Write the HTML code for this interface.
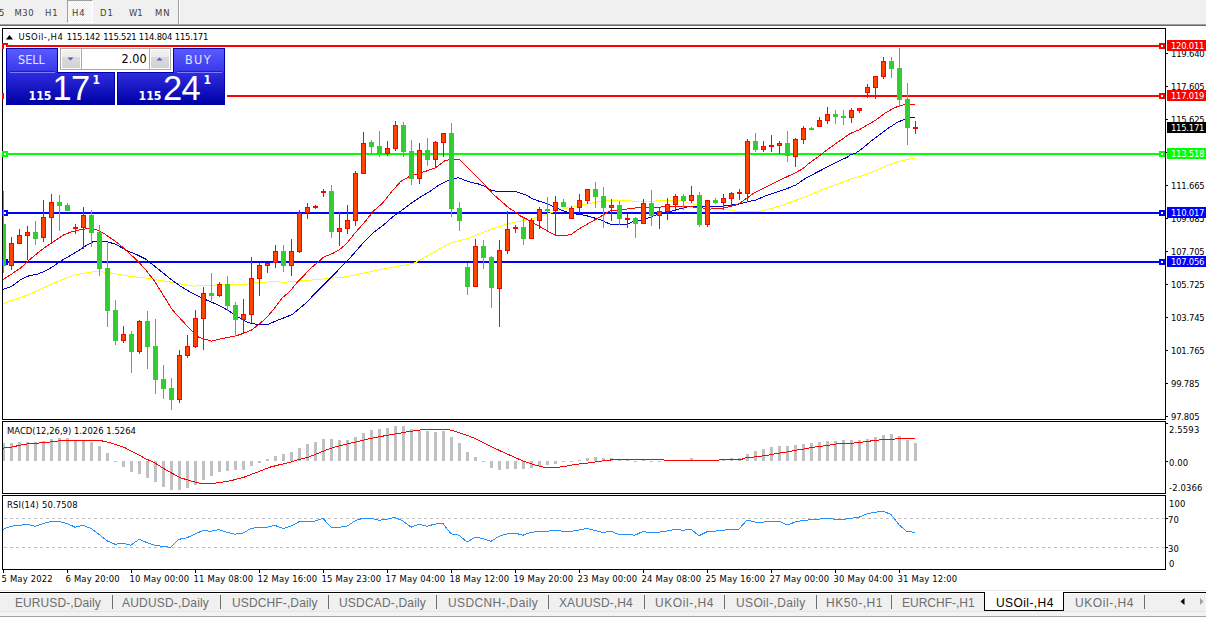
<!DOCTYPE html>
<html><head><meta charset="utf-8"><style>
*{margin:0;padding:0;box-sizing:border-box}
html,body{width:1206px;height:617px;overflow:hidden;background:#fff;position:relative;font-family:"Liberation Sans",Arial,sans-serif}
.w{fill:#fff !important}
.ax{font-family:"DejaVu Sans Condensed","DejaVu Sans",sans-serif;font-stretch:condensed;font-size:9.4px;fill:#000;letter-spacing:0.15px}
#tb{position:absolute;left:0;top:0;width:1206px;height:24px;background:#f0f0f0}
#tb span{position:absolute;top:8px;font-family:"DejaVu Sans Condensed","DejaVu Sans",sans-serif;font-stretch:condensed;font-size:9.4px;line-height:10px;color:#404040;letter-spacing:1px}
#tabs{position:absolute;left:0;top:590px;width:1206px;height:27px;background:#f0f0f0}
#tabs span.t{position:absolute;top:6px;font-size:12px;line-height:14px;color:#6d6d6d;white-space:nowrap}
#tabs i.s{position:absolute;top:5px;width:1px;height:14px;background:#6d6d6d}
.p{position:absolute;line-height:1;white-space:nowrap}
.dj{font-family:"DejaVu Sans Condensed","DejaVu Sans",sans-serif;font-stretch:condensed}
.big{font-size:34.5px;color:#fff;letter-spacing:-0.8px}
</style></head><body>
<div id="tb">
<span style="left:-1px">5</span><span style="left:14.5px;letter-spacing:0.5px">M30</span><span style="left:45px">H1</span>
<div style="position:absolute;left:67px;top:0;width:26px;height:23px;background:repeating-conic-gradient(#ffffff 0 25%,#ececec 0 50%) 0 0/2px 2px;border-left:1px solid #a0a0a0;border-top:1px solid #a0a0a0;border-right:1px solid #fff;border-bottom:1px solid #fff"></div>
<span style="left:72px">H4</span><span style="left:100px">D1</span><span style="left:129px;letter-spacing:0">W1</span><span style="left:155px">MN</span>
<div style="position:absolute;left:178px;top:0;width:1px;height:24px;background:#a0a0a0"></div>
<div style="position:absolute;left:179px;top:0;width:1px;height:24px;background:#fff"></div>
</div>
<div style="position:absolute;left:0;top:24px;width:1206px;height:1px;background:#a0a0a0"></div>
<div style="position:absolute;left:0;top:25px;width:1206px;height:1px;background:#696969"></div>
<svg width="1206" height="617" viewBox="0 0 1206 617" style="position:absolute;left:0;top:0">
<defs><clipPath id="cw"><rect x="3" y="29" width="1162" height="390"/></clipPath><clipPath id="cw2"><rect x="3" y="0" width="1162" height="617"/></clipPath></defs>
<g clip-path="url(#cw2)">
<rect x="3" y="45" width="1162" height="2" fill="#ff0000"/>
<rect x="1159" y="43" width="6" height="6" fill="#ff0000"/><rect x="1161" y="45" width="2" height="2" fill="#fff"/>
<rect x="3" y="95" width="1162" height="2" fill="#ff0000"/>
<rect x="1159" y="93" width="6" height="6" fill="#ff0000"/><rect x="1161" y="95" width="2" height="2" fill="#fff"/>
<rect x="3" y="153" width="1162" height="2" fill="#00ff00"/>
<rect x="1159" y="151" width="6" height="6" fill="#00ff00"/><rect x="1161" y="153" width="2" height="2" fill="#fff"/>
<rect x="3" y="212" width="1162" height="2" fill="#0000ff"/>
<rect x="1159" y="210" width="6" height="6" fill="#0000ff"/><rect x="1161" y="212" width="2" height="2" fill="#fff"/>
<rect x="3" y="261" width="1162" height="2" fill="#0000ff"/>
<rect x="1159" y="259" width="6" height="6" fill="#0000ff"/><rect x="1161" y="261" width="2" height="2" fill="#fff"/>
<polyline points="2.9,303.8 14.6,299.5 29.2,294.4 43.7,287.8 58.3,281.2 72.9,275.4 84.6,273.2 96.2,271.3 105.0,272.2 110.0,272.8 127.8,276.0 145.7,278.1 163.5,281.0 181.3,284.0 193.8,286.2 202.7,285.3 246.2,284.3 254.7,282.8 273.0,281.6 285.1,282.2 297.3,281.2 310.0,280.2 346.3,276.8 378.0,270.0 414.3,263.2 429.5,254.9 441.1,248.1 452.8,242.3 468.4,238.4 487.8,230.6 507.3,223.8 519.0,221.3 531.3,219.1 542.7,215.7 554.0,211.8 565.4,208.4 576.7,206.3 588.0,203.8 597.1,202.1 606.2,200.4 631.1,200.4 633.0,201.4 653.9,201.4 655.9,200.4 679.8,200.4 689.7,203.4 699.7,205.4 709.6,206.9 714.6,208.4 729.5,209.9 736.5,211.3 742.4,211.3 760.3,211.3 770.5,208.7 782.4,205.3 796.1,200.2 809.7,195.1 821.6,190.0 835.2,184.9 847.1,180.6 850.0,179.3 861.7,175.9 873.3,171.6 885.0,166.5 896.7,162.1 905.4,159.9 914.9,158.0" fill="none" stroke="#ffff00" stroke-width="1" shape-rendering="crispEdges"/>
<polyline points="2.9,289.3 11.7,286.3 20.4,279.8 29.2,275.7 37.9,274.0 46.7,270.3 54.0,265.9 61.2,260.8 70.0,255.7 78.7,250.6 87.5,244.8 93.3,241.6 100.6,241.1 107.9,241.9 115.2,244.1 118.9,246.1 127.8,251.0 136.7,254.6 145.7,259.1 154.6,266.2 163.5,273.3 172.4,280.5 181.3,286.7 190.2,292.0 199.1,296.5 207.3,300.4 215.8,304.0 224.3,308.3 231.6,312.6 238.9,317.4 245.0,321.1 251.1,323.5 258.4,324.5 268.1,324.5 275.4,321.1 285.1,317.4 292.4,314.4 299.7,308.3 307.0,302.2 310.0,298.8 319.1,289.3 328.1,280.2 337.2,271.1 346.3,262.0 355.4,251.8 364.4,241.6 373.5,232.6 382.6,225.8 391.6,217.8 400.7,211.0 409.8,204.2 419.7,197.5 429.5,191.7 439.2,184.9 448.9,180.0 458.6,177.7 468.4,181.6 478.1,183.9 483.9,185.9 491.7,190.7 497.5,191.3 515.1,191.3 520.0,193.0 525.7,194.7 532.5,198.7 539.3,201.3 546.1,203.3 554.0,206.7 562.0,210.4 567.6,212.3 575.6,214.0 584.6,215.2 592.6,217.4 600.5,219.9 606.2,222.5 611.9,224.6 626.6,224.6 632.3,222.0 636.0,220.8 644.9,219.3 654.9,215.3 669.8,211.6 679.8,208.9 688.7,206.4 694.7,206.4 703.6,206.1 709.6,206.4 719.6,206.4 729.5,205.4 739.5,203.9 745.0,202.4 755.2,200.2 765.4,196.0 775.6,192.6 785.9,189.1 796.1,184.9 804.6,178.9 813.1,174.3 821.6,169.9 830.1,165.3 838.6,161.1 847.1,157.3 850.0,155.1 855.8,153.0 861.7,149.0 870.4,141.7 879.2,135.1 887.9,128.5 896.7,122.7 904.0,119.5 911.3,117.3 914.9,117.3" fill="none" stroke="#0000cd" stroke-width="1" shape-rendering="crispEdges"/>
<polyline points="2.9,279.8 11.7,274.0 20.4,268.1 29.2,260.1 37.9,252.8 46.7,246.2 55.4,240.4 64.2,234.6 72.9,231.4 81.7,229.5 88.9,228.5 96.2,229.5 103.5,233.1 110.8,238.2 118.9,243.9 127.8,251.9 136.7,260.0 145.7,269.8 154.6,281.3 163.5,295.6 172.4,309.9 181.3,319.7 190.2,329.5 199.1,337.5 211.5,341.1 224.3,338.1 236.5,335.7 243.8,333.2 251.1,330.2 258.4,324.7 265.7,318.6 273.0,310.1 282.7,297.4 290.0,291.3 297.3,282.2 304.6,274.9 310.0,268.8 316.8,263.2 323.6,257.1 332.7,253.4 339.5,249.6 346.3,243.9 355.4,232.6 364.4,222.4 373.5,211.0 382.6,203.1 391.6,191.7 400.7,181.5 409.8,176.3 417.8,173.8 425.6,171.3 435.3,168.0 445.0,160.6 450.9,159.4 459.6,159.4 468.4,168.3 478.1,178.1 485.9,185.9 493.7,194.6 501.4,201.4 509.2,208.2 517.0,213.1 520.0,215.7 526.8,219.1 534.7,223.7 542.7,228.2 549.5,232.2 555.2,235.3 566.5,235.3 571.6,234.2 579.0,228.8 588.0,223.7 597.1,218.6 603.9,214.6 610.7,210.6 618.7,210.4 624.3,209.3 633.4,208.4 640.0,207.1 659.9,207.1 669.8,206.4 689.7,206.4 694.7,207.4 701.6,207.4 704.6,208.9 709.6,209.1 714.6,208.7 724.5,207.9 729.5,206.7 734.5,205.4 739.5,203.4 745.0,199.4 753.5,193.4 763.7,188.3 773.9,183.2 784.1,178.1 794.4,173.3 802.9,168.7 809.7,162.8 818.2,156.8 826.7,150.0 835.2,144.0 843.7,138.1 850.0,133.6 858.7,130.0 867.5,124.9 876.3,119.8 885.0,113.2 893.8,108.1 901.0,105.2 906.9,104.5 914.9,104.5" fill="none" stroke="#ff0000" stroke-width="1" shape-rendering="crispEdges"/>
<rect x="3" y="191" width="1" height="82" fill="#32cd32"/>
<rect x="1" y="224" width="5" height="42" fill="#32cd32"/>
<rect x="11" y="237" width="1" height="33" fill="#ff0000"/>
<rect x="9" y="243" width="5" height="23" fill="#ff0000"/>
<rect x="10" y="244" width="3" height="21" fill="#ff4500"/>
<rect x="19" y="229" width="1" height="15" fill="#ff0000"/>
<rect x="17" y="235" width="5" height="9" fill="#ff0000"/>
<rect x="18" y="236" width="3" height="7" fill="#ff4500"/>
<rect x="27" y="226" width="1" height="34" fill="#ff0000"/>
<rect x="25" y="232" width="5" height="4" fill="#ff0000"/>
<rect x="26" y="233" width="3" height="2" fill="#ff4500"/>
<rect x="35" y="221" width="1" height="24" fill="#32cd32"/>
<rect x="33" y="232" width="5" height="7" fill="#32cd32"/>
<rect x="43" y="200" width="1" height="42" fill="#ff0000"/>
<rect x="41" y="217" width="5" height="21" fill="#ff0000"/>
<rect x="42" y="218" width="3" height="19" fill="#ff4500"/>
<rect x="51" y="194" width="1" height="48" fill="#ff0000"/>
<rect x="49" y="202" width="5" height="16" fill="#ff0000"/>
<rect x="50" y="203" width="3" height="14" fill="#ff4500"/>
<rect x="59" y="195" width="1" height="36" fill="#32cd32"/>
<rect x="57" y="202" width="5" height="4" fill="#32cd32"/>
<rect x="67" y="203" width="1" height="8" fill="#32cd32"/>
<rect x="65" y="205" width="5" height="6" fill="#32cd32"/>
<rect x="75" y="224" width="1" height="10" fill="#ff0000"/>
<rect x="73" y="227" width="5" height="2" fill="#ff0000"/>
<rect x="83" y="207" width="1" height="42" fill="#ff0000"/>
<rect x="81" y="215" width="5" height="13" fill="#ff0000"/>
<rect x="82" y="216" width="3" height="11" fill="#ff4500"/>
<rect x="91" y="210" width="1" height="37" fill="#32cd32"/>
<rect x="89" y="215" width="5" height="18" fill="#32cd32"/>
<rect x="99" y="225" width="1" height="51" fill="#32cd32"/>
<rect x="97" y="232" width="5" height="37" fill="#32cd32"/>
<rect x="107" y="243" width="1" height="84" fill="#32cd32"/>
<rect x="105" y="268" width="5" height="43" fill="#32cd32"/>
<rect x="115" y="300" width="1" height="45" fill="#32cd32"/>
<rect x="113" y="310" width="5" height="31" fill="#32cd32"/>
<rect x="123" y="326" width="1" height="17" fill="#ff0000"/>
<rect x="121" y="334" width="5" height="7" fill="#ff0000"/>
<rect x="122" y="335" width="3" height="5" fill="#ff4500"/>
<rect x="131" y="331" width="1" height="42" fill="#32cd32"/>
<rect x="129" y="334" width="5" height="18" fill="#32cd32"/>
<rect x="139" y="320" width="1" height="34" fill="#ff0000"/>
<rect x="137" y="321" width="5" height="31" fill="#ff0000"/>
<rect x="138" y="322" width="3" height="29" fill="#ff4500"/>
<rect x="147" y="311" width="1" height="58" fill="#32cd32"/>
<rect x="145" y="321" width="5" height="26" fill="#32cd32"/>
<rect x="155" y="319" width="1" height="75" fill="#32cd32"/>
<rect x="153" y="346" width="5" height="34" fill="#32cd32"/>
<rect x="163" y="365" width="1" height="34" fill="#32cd32"/>
<rect x="161" y="379" width="5" height="10" fill="#32cd32"/>
<rect x="171" y="378" width="1" height="32" fill="#32cd32"/>
<rect x="169" y="388" width="5" height="12" fill="#32cd32"/>
<rect x="179" y="350" width="1" height="53" fill="#ff0000"/>
<rect x="177" y="355" width="5" height="45" fill="#ff0000"/>
<rect x="178" y="356" width="3" height="43" fill="#ff4500"/>
<rect x="187" y="335" width="1" height="23" fill="#ff0000"/>
<rect x="185" y="346" width="5" height="10" fill="#ff0000"/>
<rect x="186" y="347" width="3" height="8" fill="#ff4500"/>
<rect x="195" y="310" width="1" height="38" fill="#ff0000"/>
<rect x="193" y="318" width="5" height="29" fill="#ff0000"/>
<rect x="194" y="319" width="3" height="27" fill="#ff4500"/>
<rect x="203" y="287" width="1" height="63" fill="#ff0000"/>
<rect x="201" y="293" width="5" height="26" fill="#ff0000"/>
<rect x="202" y="294" width="3" height="24" fill="#ff4500"/>
<rect x="211" y="273" width="1" height="28" fill="#32cd32"/>
<rect x="209" y="293" width="5" height="3" fill="#32cd32"/>
<rect x="219" y="282" width="1" height="15" fill="#ff0000"/>
<rect x="217" y="284" width="5" height="12" fill="#ff0000"/>
<rect x="218" y="285" width="3" height="10" fill="#ff4500"/>
<rect x="227" y="276" width="1" height="35" fill="#32cd32"/>
<rect x="225" y="284" width="5" height="22" fill="#32cd32"/>
<rect x="235" y="302" width="1" height="34" fill="#32cd32"/>
<rect x="233" y="305" width="5" height="15" fill="#32cd32"/>
<rect x="243" y="299" width="1" height="35" fill="#ff0000"/>
<rect x="241" y="314" width="5" height="6" fill="#ff0000"/>
<rect x="242" y="315" width="3" height="4" fill="#ff4500"/>
<rect x="251" y="257" width="1" height="66" fill="#ff0000"/>
<rect x="249" y="278" width="5" height="37" fill="#ff0000"/>
<rect x="250" y="279" width="3" height="35" fill="#ff4500"/>
<rect x="259" y="263" width="1" height="33" fill="#ff0000"/>
<rect x="257" y="265" width="5" height="14" fill="#ff0000"/>
<rect x="258" y="266" width="3" height="12" fill="#ff4500"/>
<rect x="267" y="263" width="1" height="10" fill="#ff0000"/>
<rect x="265" y="263" width="5" height="3" fill="#ff0000"/>
<rect x="266" y="264" width="3" height="1" fill="#ff4500"/>
<rect x="275" y="245" width="1" height="23" fill="#ff0000"/>
<rect x="273" y="251" width="5" height="12" fill="#ff0000"/>
<rect x="274" y="252" width="3" height="10" fill="#ff4500"/>
<rect x="283" y="245" width="1" height="27" fill="#32cd32"/>
<rect x="281" y="251" width="5" height="15" fill="#32cd32"/>
<rect x="291" y="239" width="1" height="37" fill="#ff0000"/>
<rect x="289" y="251" width="5" height="15" fill="#ff0000"/>
<rect x="290" y="252" width="3" height="13" fill="#ff4500"/>
<rect x="299" y="210" width="1" height="43" fill="#ff0000"/>
<rect x="297" y="213" width="5" height="39" fill="#ff0000"/>
<rect x="298" y="214" width="3" height="37" fill="#ff4500"/>
<rect x="307" y="203" width="1" height="16" fill="#ff0000"/>
<rect x="305" y="207" width="5" height="6" fill="#ff0000"/>
<rect x="306" y="208" width="3" height="4" fill="#ff4500"/>
<rect x="315" y="205" width="1" height="4" fill="#ff0000"/>
<rect x="313" y="206" width="5" height="2" fill="#ff0000"/>
<rect x="323" y="189" width="1" height="8" fill="#ff0000"/>
<rect x="321" y="191" width="5" height="2" fill="#ff0000"/>
<rect x="331" y="185" width="1" height="53" fill="#32cd32"/>
<rect x="329" y="191" width="5" height="41" fill="#32cd32"/>
<rect x="339" y="212" width="1" height="34" fill="#ff0000"/>
<rect x="337" y="228" width="5" height="4" fill="#ff0000"/>
<rect x="338" y="229" width="3" height="2" fill="#ff4500"/>
<rect x="347" y="205" width="1" height="29" fill="#ff0000"/>
<rect x="345" y="220" width="5" height="9" fill="#ff0000"/>
<rect x="346" y="221" width="3" height="7" fill="#ff4500"/>
<rect x="355" y="171" width="1" height="55" fill="#ff0000"/>
<rect x="353" y="173" width="5" height="48" fill="#ff0000"/>
<rect x="354" y="174" width="3" height="46" fill="#ff4500"/>
<rect x="363" y="132" width="1" height="42" fill="#ff0000"/>
<rect x="361" y="143" width="5" height="31" fill="#ff0000"/>
<rect x="362" y="144" width="3" height="29" fill="#ff4500"/>
<rect x="371" y="140" width="1" height="14" fill="#32cd32"/>
<rect x="369" y="142" width="5" height="5" fill="#32cd32"/>
<rect x="379" y="131" width="1" height="26" fill="#32cd32"/>
<rect x="377" y="146" width="5" height="8" fill="#32cd32"/>
<rect x="387" y="141" width="1" height="15" fill="#ff0000"/>
<rect x="385" y="148" width="5" height="6" fill="#ff0000"/>
<rect x="386" y="149" width="3" height="4" fill="#ff4500"/>
<rect x="395" y="121" width="1" height="30" fill="#ff0000"/>
<rect x="393" y="125" width="5" height="24" fill="#ff0000"/>
<rect x="394" y="126" width="3" height="22" fill="#ff4500"/>
<rect x="403" y="122" width="1" height="35" fill="#32cd32"/>
<rect x="401" y="125" width="5" height="27" fill="#32cd32"/>
<rect x="411" y="140" width="1" height="45" fill="#32cd32"/>
<rect x="409" y="151" width="5" height="28" fill="#32cd32"/>
<rect x="419" y="143" width="1" height="41" fill="#ff0000"/>
<rect x="417" y="150" width="5" height="29" fill="#ff0000"/>
<rect x="418" y="151" width="3" height="27" fill="#ff4500"/>
<rect x="427" y="138" width="1" height="28" fill="#32cd32"/>
<rect x="425" y="150" width="5" height="10" fill="#32cd32"/>
<rect x="435" y="141" width="1" height="27" fill="#ff0000"/>
<rect x="433" y="142" width="5" height="18" fill="#ff0000"/>
<rect x="434" y="143" width="3" height="16" fill="#ff4500"/>
<rect x="443" y="133" width="1" height="24" fill="#ff0000"/>
<rect x="441" y="133" width="5" height="10" fill="#ff0000"/>
<rect x="442" y="134" width="3" height="8" fill="#ff4500"/>
<rect x="451" y="123" width="1" height="94" fill="#32cd32"/>
<rect x="449" y="133" width="5" height="76" fill="#32cd32"/>
<rect x="459" y="202" width="1" height="29" fill="#32cd32"/>
<rect x="457" y="208" width="5" height="13" fill="#32cd32"/>
<rect x="467" y="263" width="1" height="32" fill="#32cd32"/>
<rect x="465" y="267" width="5" height="20" fill="#32cd32"/>
<rect x="475" y="239" width="1" height="48" fill="#ff0000"/>
<rect x="473" y="246" width="5" height="41" fill="#ff0000"/>
<rect x="474" y="247" width="3" height="39" fill="#ff4500"/>
<rect x="483" y="240" width="1" height="29" fill="#32cd32"/>
<rect x="481" y="246" width="5" height="12" fill="#32cd32"/>
<rect x="491" y="256" width="1" height="52" fill="#32cd32"/>
<rect x="489" y="257" width="5" height="31" fill="#32cd32"/>
<rect x="499" y="240" width="1" height="87" fill="#ff0000"/>
<rect x="497" y="250" width="5" height="39" fill="#ff0000"/>
<rect x="498" y="251" width="3" height="37" fill="#ff4500"/>
<rect x="507" y="211" width="1" height="43" fill="#ff0000"/>
<rect x="505" y="229" width="5" height="22" fill="#ff0000"/>
<rect x="506" y="230" width="3" height="20" fill="#ff4500"/>
<rect x="515" y="225" width="1" height="8" fill="#ff0000"/>
<rect x="513" y="227" width="5" height="2" fill="#ff0000"/>
<rect x="523" y="217" width="1" height="28" fill="#32cd32"/>
<rect x="521" y="227" width="5" height="12" fill="#32cd32"/>
<rect x="531" y="218" width="1" height="21" fill="#ff0000"/>
<rect x="529" y="220" width="5" height="19" fill="#ff0000"/>
<rect x="530" y="221" width="3" height="17" fill="#ff4500"/>
<rect x="539" y="207" width="1" height="22" fill="#ff0000"/>
<rect x="537" y="209" width="5" height="12" fill="#ff0000"/>
<rect x="538" y="210" width="3" height="10" fill="#ff4500"/>
<rect x="547" y="197" width="1" height="33" fill="#32cd32"/>
<rect x="545" y="209" width="5" height="2" fill="#32cd32"/>
<rect x="555" y="196" width="1" height="39" fill="#ff0000"/>
<rect x="553" y="202" width="5" height="9" fill="#ff0000"/>
<rect x="554" y="203" width="3" height="7" fill="#ff4500"/>
<rect x="563" y="199" width="1" height="8" fill="#32cd32"/>
<rect x="561" y="202" width="5" height="5" fill="#32cd32"/>
<rect x="571" y="206" width="1" height="13" fill="#ff0000"/>
<rect x="569" y="208" width="5" height="11" fill="#ff0000"/>
<rect x="570" y="209" width="3" height="9" fill="#ff4500"/>
<rect x="579" y="194" width="1" height="19" fill="#ff0000"/>
<rect x="577" y="200" width="5" height="8" fill="#ff0000"/>
<rect x="578" y="201" width="3" height="6" fill="#ff4500"/>
<rect x="587" y="189" width="1" height="15" fill="#ff0000"/>
<rect x="585" y="189" width="5" height="12" fill="#ff0000"/>
<rect x="586" y="190" width="3" height="10" fill="#ff4500"/>
<rect x="595" y="182" width="1" height="26" fill="#32cd32"/>
<rect x="593" y="189" width="5" height="8" fill="#32cd32"/>
<rect x="603" y="187" width="1" height="41" fill="#32cd32"/>
<rect x="601" y="196" width="5" height="12" fill="#32cd32"/>
<rect x="611" y="199" width="1" height="22" fill="#ff0000"/>
<rect x="609" y="205" width="5" height="3" fill="#ff0000"/>
<rect x="610" y="206" width="3" height="1" fill="#ff4500"/>
<rect x="619" y="201" width="1" height="24" fill="#32cd32"/>
<rect x="617" y="205" width="5" height="14" fill="#32cd32"/>
<rect x="627" y="214" width="1" height="14" fill="#ff0000"/>
<rect x="625" y="218" width="5" height="2" fill="#ff0000"/>
<rect x="635" y="217" width="1" height="21" fill="#32cd32"/>
<rect x="633" y="218" width="5" height="6" fill="#32cd32"/>
<rect x="643" y="199" width="1" height="25" fill="#ff0000"/>
<rect x="641" y="203" width="5" height="21" fill="#ff0000"/>
<rect x="642" y="204" width="3" height="19" fill="#ff4500"/>
<rect x="651" y="190" width="1" height="36" fill="#32cd32"/>
<rect x="649" y="203" width="5" height="13" fill="#32cd32"/>
<rect x="659" y="208" width="1" height="21" fill="#ff0000"/>
<rect x="657" y="211" width="5" height="5" fill="#ff0000"/>
<rect x="658" y="212" width="3" height="3" fill="#ff4500"/>
<rect x="667" y="198" width="1" height="22" fill="#ff0000"/>
<rect x="665" y="204" width="5" height="8" fill="#ff0000"/>
<rect x="666" y="205" width="3" height="6" fill="#ff4500"/>
<rect x="675" y="194" width="1" height="16" fill="#ff0000"/>
<rect x="673" y="196" width="5" height="9" fill="#ff0000"/>
<rect x="674" y="197" width="3" height="7" fill="#ff4500"/>
<rect x="683" y="194" width="1" height="16" fill="#32cd32"/>
<rect x="681" y="196" width="5" height="5" fill="#32cd32"/>
<rect x="691" y="186" width="1" height="17" fill="#ff0000"/>
<rect x="689" y="195" width="5" height="6" fill="#ff0000"/>
<rect x="690" y="196" width="3" height="4" fill="#ff4500"/>
<rect x="699" y="192" width="1" height="35" fill="#32cd32"/>
<rect x="697" y="195" width="5" height="30" fill="#32cd32"/>
<rect x="707" y="200" width="1" height="27" fill="#ff0000"/>
<rect x="705" y="200" width="5" height="25" fill="#ff0000"/>
<rect x="706" y="201" width="3" height="23" fill="#ff4500"/>
<rect x="715" y="198" width="1" height="6" fill="#32cd32"/>
<rect x="713" y="200" width="5" height="3" fill="#32cd32"/>
<rect x="723" y="194" width="1" height="16" fill="#ff0000"/>
<rect x="721" y="198" width="5" height="5" fill="#ff0000"/>
<rect x="722" y="199" width="3" height="3" fill="#ff4500"/>
<rect x="731" y="192" width="1" height="14" fill="#ff0000"/>
<rect x="729" y="193" width="5" height="6" fill="#ff0000"/>
<rect x="730" y="194" width="3" height="4" fill="#ff4500"/>
<rect x="739" y="189" width="1" height="11" fill="#ff0000"/>
<rect x="737" y="192" width="5" height="2" fill="#ff0000"/>
<rect x="747" y="139" width="1" height="63" fill="#ff0000"/>
<rect x="745" y="141" width="5" height="53" fill="#ff0000"/>
<rect x="746" y="142" width="3" height="51" fill="#ff4500"/>
<rect x="755" y="133" width="1" height="19" fill="#32cd32"/>
<rect x="753" y="141" width="5" height="9" fill="#32cd32"/>
<rect x="763" y="141" width="1" height="11" fill="#ff0000"/>
<rect x="761" y="146" width="5" height="4" fill="#ff0000"/>
<rect x="762" y="147" width="3" height="2" fill="#ff4500"/>
<rect x="771" y="135" width="1" height="17" fill="#ff0000"/>
<rect x="769" y="145" width="5" height="2" fill="#ff0000"/>
<rect x="779" y="141" width="1" height="13" fill="#ff0000"/>
<rect x="777" y="143" width="5" height="3" fill="#ff0000"/>
<rect x="778" y="144" width="3" height="1" fill="#ff4500"/>
<rect x="787" y="131" width="1" height="31" fill="#32cd32"/>
<rect x="785" y="143" width="5" height="13" fill="#32cd32"/>
<rect x="795" y="138" width="1" height="29" fill="#ff0000"/>
<rect x="793" y="139" width="5" height="18" fill="#ff0000"/>
<rect x="794" y="140" width="3" height="16" fill="#ff4500"/>
<rect x="803" y="126" width="1" height="18" fill="#ff0000"/>
<rect x="801" y="128" width="5" height="12" fill="#ff0000"/>
<rect x="802" y="129" width="3" height="10" fill="#ff4500"/>
<rect x="811" y="127" width="1" height="3" fill="#32cd32"/>
<rect x="809" y="128" width="5" height="2" fill="#32cd32"/>
<rect x="819" y="117" width="1" height="10" fill="#ff0000"/>
<rect x="817" y="120" width="5" height="7" fill="#ff0000"/>
<rect x="818" y="121" width="3" height="5" fill="#ff4500"/>
<rect x="827" y="107" width="1" height="17" fill="#ff0000"/>
<rect x="825" y="114" width="5" height="7" fill="#ff0000"/>
<rect x="826" y="115" width="3" height="5" fill="#ff4500"/>
<rect x="835" y="110" width="1" height="14" fill="#32cd32"/>
<rect x="833" y="114" width="5" height="3" fill="#32cd32"/>
<rect x="843" y="110" width="1" height="15" fill="#32cd32"/>
<rect x="841" y="116" width="5" height="2" fill="#32cd32"/>
<rect x="851" y="108" width="1" height="15" fill="#ff0000"/>
<rect x="849" y="110" width="5" height="8" fill="#ff0000"/>
<rect x="850" y="111" width="3" height="6" fill="#ff4500"/>
<rect x="859" y="108" width="1" height="5" fill="#ff0000"/>
<rect x="857" y="108" width="5" height="3" fill="#ff0000"/>
<rect x="858" y="109" width="3" height="1" fill="#ff4500"/>
<rect x="867" y="84" width="1" height="14" fill="#ff0000"/>
<rect x="865" y="87" width="5" height="6" fill="#ff0000"/>
<rect x="866" y="88" width="3" height="4" fill="#ff4500"/>
<rect x="875" y="76" width="1" height="23" fill="#ff0000"/>
<rect x="873" y="76" width="5" height="12" fill="#ff0000"/>
<rect x="874" y="77" width="3" height="10" fill="#ff4500"/>
<rect x="883" y="57" width="1" height="22" fill="#ff0000"/>
<rect x="881" y="61" width="5" height="16" fill="#ff0000"/>
<rect x="882" y="62" width="3" height="14" fill="#ff4500"/>
<rect x="891" y="57" width="1" height="21" fill="#32cd32"/>
<rect x="889" y="61" width="5" height="8" fill="#32cd32"/>
<rect x="899" y="48" width="1" height="59" fill="#32cd32"/>
<rect x="897" y="68" width="5" height="32" fill="#32cd32"/>
<rect x="907" y="83" width="1" height="62" fill="#32cd32"/>
<rect x="905" y="99" width="5" height="29" fill="#32cd32"/>
<rect x="915" y="121" width="1" height="13" fill="#ff0000"/>
<rect x="913" y="127" width="5" height="2" fill="#ff0000"/>
<rect x="2" y="443" width="3" height="18" fill="#c0c0c0"/>
<rect x="10" y="443" width="3" height="18" fill="#c0c0c0"/>
<rect x="18" y="442" width="3" height="19" fill="#c0c0c0"/>
<rect x="26" y="442" width="3" height="19" fill="#c0c0c0"/>
<rect x="34" y="442" width="3" height="19" fill="#c0c0c0"/>
<rect x="42" y="441" width="3" height="20" fill="#c0c0c0"/>
<rect x="50" y="439" width="3" height="22" fill="#c0c0c0"/>
<rect x="58" y="438" width="3" height="23" fill="#c0c0c0"/>
<rect x="66" y="438" width="3" height="23" fill="#c0c0c0"/>
<rect x="74" y="441" width="3" height="20" fill="#c0c0c0"/>
<rect x="82" y="441" width="3" height="20" fill="#c0c0c0"/>
<rect x="90" y="442" width="3" height="19" fill="#c0c0c0"/>
<rect x="98" y="446" width="3" height="15" fill="#c0c0c0"/>
<rect x="106" y="453" width="3" height="8" fill="#c0c0c0"/>
<rect x="114" y="461" width="3" height="1" fill="#c0c0c0"/>
<rect x="122" y="461" width="3" height="6" fill="#c0c0c0"/>
<rect x="130" y="461" width="3" height="11" fill="#c0c0c0"/>
<rect x="138" y="461" width="3" height="13" fill="#c0c0c0"/>
<rect x="146" y="461" width="3" height="17" fill="#c0c0c0"/>
<rect x="154" y="461" width="3" height="21" fill="#c0c0c0"/>
<rect x="162" y="461" width="3" height="26" fill="#c0c0c0"/>
<rect x="170" y="461" width="3" height="29" fill="#c0c0c0"/>
<rect x="178" y="461" width="3" height="29" fill="#c0c0c0"/>
<rect x="186" y="461" width="3" height="27" fill="#c0c0c0"/>
<rect x="194" y="461" width="3" height="24" fill="#c0c0c0"/>
<rect x="202" y="461" width="3" height="19" fill="#c0c0c0"/>
<rect x="210" y="461" width="3" height="15" fill="#c0c0c0"/>
<rect x="218" y="461" width="3" height="11" fill="#c0c0c0"/>
<rect x="226" y="461" width="3" height="10" fill="#c0c0c0"/>
<rect x="234" y="461" width="3" height="9" fill="#c0c0c0"/>
<rect x="242" y="461" width="3" height="9" fill="#c0c0c0"/>
<rect x="250" y="461" width="3" height="5" fill="#c0c0c0"/>
<rect x="258" y="461" width="3" height="2" fill="#c0c0c0"/>
<rect x="266" y="459" width="3" height="2" fill="#c0c0c0"/>
<rect x="274" y="456" width="3" height="5" fill="#c0c0c0"/>
<rect x="282" y="454" width="3" height="7" fill="#c0c0c0"/>
<rect x="290" y="452" width="3" height="9" fill="#c0c0c0"/>
<rect x="298" y="448" width="3" height="13" fill="#c0c0c0"/>
<rect x="306" y="444" width="3" height="17" fill="#c0c0c0"/>
<rect x="314" y="442" width="3" height="19" fill="#c0c0c0"/>
<rect x="322" y="439" width="3" height="22" fill="#c0c0c0"/>
<rect x="330" y="439" width="3" height="22" fill="#c0c0c0"/>
<rect x="338" y="440" width="3" height="21" fill="#c0c0c0"/>
<rect x="346" y="440" width="3" height="21" fill="#c0c0c0"/>
<rect x="354" y="437" width="3" height="24" fill="#c0c0c0"/>
<rect x="362" y="433" width="3" height="28" fill="#c0c0c0"/>
<rect x="370" y="430" width="3" height="31" fill="#c0c0c0"/>
<rect x="378" y="429" width="3" height="32" fill="#c0c0c0"/>
<rect x="386" y="428" width="3" height="33" fill="#c0c0c0"/>
<rect x="394" y="426" width="3" height="35" fill="#c0c0c0"/>
<rect x="402" y="426" width="3" height="35" fill="#c0c0c0"/>
<rect x="410" y="429" width="3" height="32" fill="#c0c0c0"/>
<rect x="418" y="431" width="3" height="30" fill="#c0c0c0"/>
<rect x="426" y="431" width="3" height="30" fill="#c0c0c0"/>
<rect x="434" y="432" width="3" height="29" fill="#c0c0c0"/>
<rect x="442" y="431" width="3" height="30" fill="#c0c0c0"/>
<rect x="450" y="437" width="3" height="24" fill="#c0c0c0"/>
<rect x="458" y="443" width="3" height="18" fill="#c0c0c0"/>
<rect x="466" y="452" width="3" height="9" fill="#c0c0c0"/>
<rect x="474" y="457" width="3" height="4" fill="#c0c0c0"/>
<rect x="482" y="461" width="3" height="1" fill="#c0c0c0"/>
<rect x="490" y="461" width="3" height="7" fill="#c0c0c0"/>
<rect x="498" y="461" width="3" height="9" fill="#c0c0c0"/>
<rect x="506" y="461" width="3" height="8" fill="#c0c0c0"/>
<rect x="514" y="461" width="3" height="8" fill="#c0c0c0"/>
<rect x="522" y="461" width="3" height="8" fill="#c0c0c0"/>
<rect x="530" y="461" width="3" height="7" fill="#c0c0c0"/>
<rect x="538" y="461" width="3" height="5" fill="#c0c0c0"/>
<rect x="546" y="461" width="3" height="4" fill="#c0c0c0"/>
<rect x="554" y="461" width="3" height="3" fill="#c0c0c0"/>
<rect x="562" y="461" width="3" height="1" fill="#c0c0c0"/>
<rect x="570" y="461" width="3" height="1" fill="#c0c0c0"/>
<rect x="578" y="460" width="3" height="1" fill="#c0c0c0"/>
<rect x="586" y="458" width="3" height="3" fill="#c0c0c0"/>
<rect x="594" y="457" width="3" height="4" fill="#c0c0c0"/>
<rect x="602" y="458" width="3" height="3" fill="#c0c0c0"/>
<rect x="610" y="458" width="3" height="3" fill="#c0c0c0"/>
<rect x="618" y="460" width="3" height="1" fill="#c0c0c0"/>
<rect x="626" y="460" width="3" height="1" fill="#c0c0c0"/>
<rect x="634" y="461" width="3" height="1" fill="#c0c0c0"/>
<rect x="642" y="460" width="3" height="1" fill="#c0c0c0"/>
<rect x="650" y="461" width="3" height="1" fill="#c0c0c0"/>
<rect x="658" y="461" width="3" height="1" fill="#c0c0c0"/>
<rect x="666" y="460" width="3" height="1" fill="#c0c0c0"/>
<rect x="674" y="460" width="3" height="1" fill="#c0c0c0"/>
<rect x="682" y="460" width="3" height="1" fill="#c0c0c0"/>
<rect x="690" y="458" width="3" height="3" fill="#c0c0c0"/>
<rect x="698" y="460" width="3" height="1" fill="#c0c0c0"/>
<rect x="706" y="460" width="3" height="1" fill="#c0c0c0"/>
<rect x="714" y="460" width="3" height="1" fill="#c0c0c0"/>
<rect x="722" y="460" width="3" height="1" fill="#c0c0c0"/>
<rect x="730" y="458" width="3" height="3" fill="#c0c0c0"/>
<rect x="738" y="458" width="3" height="3" fill="#c0c0c0"/>
<rect x="746" y="454" width="3" height="7" fill="#c0c0c0"/>
<rect x="754" y="451" width="3" height="10" fill="#c0c0c0"/>
<rect x="762" y="449" width="3" height="12" fill="#c0c0c0"/>
<rect x="770" y="447" width="3" height="14" fill="#c0c0c0"/>
<rect x="778" y="446" width="3" height="15" fill="#c0c0c0"/>
<rect x="786" y="446" width="3" height="15" fill="#c0c0c0"/>
<rect x="794" y="445" width="3" height="16" fill="#c0c0c0"/>
<rect x="802" y="444" width="3" height="17" fill="#c0c0c0"/>
<rect x="810" y="443" width="3" height="18" fill="#c0c0c0"/>
<rect x="818" y="442" width="3" height="19" fill="#c0c0c0"/>
<rect x="826" y="441" width="3" height="20" fill="#c0c0c0"/>
<rect x="834" y="441" width="3" height="20" fill="#c0c0c0"/>
<rect x="842" y="440" width="3" height="21" fill="#c0c0c0"/>
<rect x="850" y="440" width="3" height="21" fill="#c0c0c0"/>
<rect x="858" y="440" width="3" height="21" fill="#c0c0c0"/>
<rect x="866" y="439" width="3" height="22" fill="#c0c0c0"/>
<rect x="874" y="437" width="3" height="24" fill="#c0c0c0"/>
<rect x="882" y="435" width="3" height="26" fill="#c0c0c0"/>
<rect x="890" y="434" width="3" height="27" fill="#c0c0c0"/>
<rect x="898" y="436" width="3" height="25" fill="#c0c0c0"/>
<rect x="906" y="440" width="3" height="21" fill="#c0c0c0"/>
<rect x="914" y="443" width="3" height="18" fill="#c0c0c0"/>
<polyline points="3.1,448.2 12.4,446.9 24.9,444.2 37.3,443.2 49.8,442.0 58.5,441.0 72.1,440.2 95.8,440.2 103.2,441.1 111.9,443.2 124.4,447.5 136.8,453.8 145.0,458.4 155.0,463.0 163.7,468.6 172.4,473.5 181.1,477.9 189.8,480.7 199.7,483.2 214.7,483.2 222.1,482.2 232.1,480.4 244.5,477.0 256.9,472.3 269.4,467.3 281.8,464.2 290.0,462.3 300.0,459.2 308.7,457.0 317.4,453.6 327.3,449.5 337.3,446.4 347.2,443.9 357.2,441.8 367.1,439.2 377.1,437.1 387.0,435.4 397.0,433.7 406.9,431.8 416.9,430.5 424.3,429.3 447.4,429.3 454.9,431.2 464.9,434.6 474.8,438.3 484.8,443.3 494.7,448.3 504.7,452.9 514.6,457.3 524.6,461.6 534.5,464.8 544.5,467.3 558.1,467.3 566.8,466.0 575.5,464.4 583.7,463.5 591.2,462.6 599.3,461.3 607.4,460.4 615.4,459.4 663.6,459.4 664.6,460.4 718.7,460.4 719.3,459.4 742.4,459.2 743.7,458.2 751.1,457.3 759.8,456.3 768.5,455.1 777.2,453.5 787.2,452.0 794.7,450.4 803.4,449.1 812.1,447.4 822.0,446.1 830.7,444.9 839.4,443.5 854.4,443.0 862.9,442.4 863.2,441.4 870.7,441.4 871.0,440.4 878.8,440.4 879.1,439.4 895.0,439.4 895.3,438.3 915.0,438.3" fill="none" stroke="#ff0000" stroke-width="1" shape-rendering="crispEdges"/>
<line x1="4" y1="518.5" x2="1165" y2="518.5" stroke="#c0c0c0" stroke-dasharray="3,3" shape-rendering="crispEdges"/>
<line x1="4" y1="547.5" x2="1165" y2="547.5" stroke="#c0c0c0" stroke-dasharray="3,3" shape-rendering="crispEdges"/>
<polyline points="3.0,529.3 11.0,526.2 19.0,525.4 27.0,524.4 35.0,526.2 43.0,523.6 51.0,521.6 59.0,521.6 67.0,523.4 75.0,527.2 83.0,525.2 91.0,528.5 99.0,534.4 107.0,540.8 115.0,544.2 123.0,543.4 131.0,545.2 139.0,539.3 147.0,542.6 155.0,545.2 163.0,546.5 171.0,547.3 179.0,539.3 187.0,537.8 195.0,533.9 203.0,530.6 211.0,531.3 219.0,529.5 227.0,532.4 235.0,534.2 243.0,533.1 251.0,528.5 259.0,527.2 267.0,527.2 275.0,525.4 283.0,528.5 291.0,526.2 299.0,521.8 307.0,521.6 315.0,521.0 323.0,518.5 331.0,527.2 339.0,527.2 347.0,526.2 355.0,520.8 363.0,518.2 371.0,518.2 379.0,520.3 387.0,519.2 395.0,517.4 403.0,521.0 411.0,527.2 419.0,524.4 427.0,526.2 435.0,524.1 443.0,523.4 451.0,533.9 459.0,535.2 467.0,542.1 475.0,537.2 483.0,538.5 491.0,541.4 499.0,536.2 507.0,533.9 515.0,533.1 523.0,535.2 531.0,532.4 539.0,531.3 547.0,531.3 555.0,530.0 563.0,531.3 571.0,531.3 579.0,530.0 587.0,528.5 595.0,530.6 603.0,532.4 611.0,531.4 619.0,534.4 627.0,534.4 635.0,535.2 643.0,531.4 651.0,533.0 659.0,532.2 667.0,531.1 675.0,529.2 683.0,530.3 691.0,529.2 699.0,535.8 707.0,531.7 715.0,531.1 723.0,530.3 731.0,529.2 739.0,529.2 747.0,519.9 755.0,522.1 763.0,522.1 771.0,521.0 779.0,521.0 787.0,525.1 795.0,522.1 803.0,520.2 811.0,519.9 819.0,519.1 827.0,518.0 835.0,519.4 843.0,519.4 851.0,518.3 859.0,517.2 867.0,513.9 875.0,512.2 883.0,511.2 891.0,514.4 899.0,524.8 907.0,531.7 915.0,532.2" fill="none" stroke="#1e90ff" stroke-width="1" shape-rendering="crispEdges"/>
</g>
<rect x="2.5" y="28.5" width="1163" height="391" fill="none" stroke="#000" stroke-width="1"/>
<rect x="2.5" y="421.5" width="1163" height="72" fill="none" stroke="#000" stroke-width="1"/>
<rect x="2.5" y="495.5" width="1163" height="74" fill="none" stroke="#000" stroke-width="1"/>
<rect x="2" y="43" width="6" height="6" fill="#ff0000"/><rect x="4" y="45" width="2" height="2" fill="#fff"/>
<rect x="2" y="93" width="6" height="6" fill="#ff0000"/><rect x="4" y="95" width="2" height="2" fill="#fff"/>
<rect x="2" y="151" width="6" height="6" fill="#00ff00"/><rect x="4" y="153" width="2" height="2" fill="#fff"/>
<rect x="2" y="210" width="6" height="6" fill="#0000ff"/><rect x="4" y="212" width="2" height="2" fill="#fff"/>
<rect x="2" y="259" width="6" height="6" fill="#0000ff"/><rect x="4" y="261" width="2" height="2" fill="#fff"/>
<rect x="3" y="191" width="1" height="82" fill="#32cd32"/><rect x="3" y="224" width="3" height="42" fill="#32cd32"/>
<rect x="1166" y="53" width="2" height="1" fill="#000"/>
<text x="1171" y="57" class="ax" style="letter-spacing:-0.2px">119.640</text>
<rect x="1166" y="86" width="2" height="1" fill="#000"/>
<text x="1171" y="90" class="ax" style="letter-spacing:-0.2px">117.605</text>
<rect x="1166" y="119" width="2" height="1" fill="#000"/>
<text x="1171" y="123" class="ax" style="letter-spacing:-0.2px">115.625</text>
<rect x="1166" y="152" width="2" height="1" fill="#000"/>
<text x="1171" y="156" class="ax" style="letter-spacing:-0.2px">113.645</text>
<rect x="1166" y="185" width="2" height="1" fill="#000"/>
<text x="1171" y="189" class="ax" style="letter-spacing:-0.2px">111.665</text>
<rect x="1166" y="218" width="2" height="1" fill="#000"/>
<text x="1171" y="222" class="ax" style="letter-spacing:-0.2px">109.685</text>
<rect x="1166" y="251" width="2" height="1" fill="#000"/>
<text x="1171" y="255" class="ax" style="letter-spacing:-0.2px">107.705</text>
<rect x="1166" y="284" width="2" height="1" fill="#000"/>
<text x="1171" y="288" class="ax" style="letter-spacing:-0.2px">105.725</text>
<rect x="1166" y="317" width="2" height="1" fill="#000"/>
<text x="1171" y="321" class="ax" style="letter-spacing:-0.2px">103.745</text>
<rect x="1166" y="350" width="2" height="1" fill="#000"/>
<text x="1171" y="354" class="ax" style="letter-spacing:-0.2px">101.765</text>
<rect x="1166" y="383" width="2" height="1" fill="#000"/>
<text x="1171" y="387" class="ax" style="letter-spacing:-0.2px">99.785</text>
<rect x="1166" y="416" width="2" height="1" fill="#000"/>
<text x="1171" y="420" class="ax" style="letter-spacing:-0.2px">97.805</text>
<rect x="1167" y="40" width="39" height="11" fill="#ff0000"/>
<text x="1171" y="49" class="ax w" style="letter-spacing:-0.25px">120.011</text>
<rect x="1167" y="90" width="39" height="11" fill="#ff0000"/>
<text x="1171" y="99" class="ax w" style="letter-spacing:-0.25px">117.019</text>
<rect x="1167" y="122" width="39" height="11" fill="#000000"/>
<text x="1171" y="131" class="ax w" style="letter-spacing:-0.25px">115.171</text>
<rect x="1167" y="148" width="39" height="11" fill="#00ff00"/>
<text x="1171" y="157" class="ax w" style="letter-spacing:-0.25px">113.518</text>
<rect x="1167" y="207" width="39" height="11" fill="#0000ff"/>
<text x="1171" y="216" class="ax w" style="letter-spacing:-0.25px">110.017</text>
<rect x="1167" y="256" width="39" height="11" fill="#0000ff"/>
<text x="1171" y="265" class="ax w" style="letter-spacing:-0.25px">107.056</text>
<rect x="1166" y="461" width="2" height="1" fill="#000"/>
<rect x="1166" y="423" width="2" height="1" fill="#000"/>
<text x="1169" y="433" class="ax">2.5593</text>
<text x="1169" y="466" class="ax">0.00</text>
<text x="1169" y="491" class="ax">-2.0366</text>
<text x="1169" y="507" class="ax">100</text>
<text x="1168" y="523" class="ax">70</text>
<text x="1168" y="552" class="ax">30</text>
<text x="1169" y="567" class="ax">0</text>
<rect x="1166" y="518" width="2" height="1" fill="#000"/><rect x="1166" y="547" width="2" height="1" fill="#000"/>
<rect x="3" y="570" width="1" height="3" fill="#000"/>
<text x="1.6" y="582" class="ax">5 May 2022</text>
<rect x="67" y="570" width="1" height="3" fill="#000"/>
<text x="65.6" y="582" class="ax">6 May 20:00</text>
<rect x="131" y="570" width="1" height="3" fill="#000"/>
<text x="129.6" y="582" class="ax">10 May 00:00</text>
<rect x="195" y="570" width="1" height="3" fill="#000"/>
<text x="193.6" y="582" class="ax">11 May 08:00</text>
<rect x="259" y="570" width="1" height="3" fill="#000"/>
<text x="257.6" y="582" class="ax">12 May 16:00</text>
<rect x="323" y="570" width="1" height="3" fill="#000"/>
<text x="321.6" y="582" class="ax">15 May 23:00</text>
<rect x="387" y="570" width="1" height="3" fill="#000"/>
<text x="385.6" y="582" class="ax">17 May 04:00</text>
<rect x="451" y="570" width="1" height="3" fill="#000"/>
<text x="449.6" y="582" class="ax">18 May 12:00</text>
<rect x="515" y="570" width="1" height="3" fill="#000"/>
<text x="513.6" y="582" class="ax">19 May 20:00</text>
<rect x="579" y="570" width="1" height="3" fill="#000"/>
<text x="577.6" y="582" class="ax">23 May 00:00</text>
<rect x="643" y="570" width="1" height="3" fill="#000"/>
<text x="641.6" y="582" class="ax">24 May 08:00</text>
<rect x="707" y="570" width="1" height="3" fill="#000"/>
<text x="705.6" y="582" class="ax">25 May 16:00</text>
<rect x="771" y="570" width="1" height="3" fill="#000"/>
<text x="769.6" y="582" class="ax">27 May 00:00</text>
<rect x="835" y="570" width="1" height="3" fill="#000"/>
<text x="833.6" y="582" class="ax">30 May 04:00</text>
<rect x="899" y="570" width="1" height="3" fill="#000"/>
<text x="897.6" y="582" class="ax">31 May 12:00</text>
<text x="18.5" y="40" class="ax" style="letter-spacing:0.5px">USOil-,H4</text><text x="66.8" y="40" class="ax" style="letter-spacing:-0.22px">115.142</text><text x="103.2" y="40" class="ax" style="letter-spacing:-0.22px">115.521</text><text x="138.8" y="40" class="ax" style="letter-spacing:-0.22px">114.804</text><text x="174.8" y="40" class="ax" style="letter-spacing:-0.22px">115.171</text>
<polygon points="6,39.5 13,39.5 9.5,35" fill="#000"/>
<text x="7" y="434" class="ax" style="letter-spacing:0.02px">MACD(12,26,9) 1.2026 1.5264</text>
<text x="7" y="508" class="ax">RSI(14) 50.7508</text>
</svg>
<div id="oc">
<div style="position:absolute;left:4px;top:47px;width:223px;height:60px;background:#fff"></div>
<div style="position:absolute;left:6px;top:48px;width:52px;height:25px;background:linear-gradient(#5b5bff,#3636ea);border:1px solid #0000a8;border-bottom:none"></div>
<div style="position:absolute;left:6px;top:72px;width:109px;height:33px;background:linear-gradient(#2e2edf,#0000a6);border:1px solid #0000a8;border-top:none"></div>
<div style="position:absolute;left:10px;top:71px;width:45px;height:1px;background:#1c1cc8"></div>
<div style="position:absolute;left:10px;top:72px;width:45px;height:1px;background:#7c7cff"></div>
<div style="position:absolute;left:57px;top:72px;width:58px;height:1px;background:#0000a8"></div>
<div style="position:absolute;left:173px;top:48px;width:52px;height:25px;background:linear-gradient(#5b5bff,#3636ea);border:1px solid #0000a8;border-bottom:none"></div>
<div style="position:absolute;left:117px;top:72px;width:108px;height:33px;background:linear-gradient(#2e2edf,#0000a6);border:1px solid #0000a8;border-top:none"></div>
<div style="position:absolute;left:177px;top:71px;width:45px;height:1px;background:#1c1cc8"></div>
<div style="position:absolute;left:177px;top:72px;width:45px;height:1px;background:#7c7cff"></div>
<div style="position:absolute;left:117px;top:72px;width:57px;height:1px;background:#0000a8"></div>
<div style="position:absolute;left:58px;top:48px;width:115px;height:24px;background:#fff"></div>
<div style="position:absolute;left:60px;top:48px;width:111px;height:22px;background:#fff;border:1px solid #a8a8a8"></div>
<div style="position:absolute;left:81px;top:49px;width:1px;height:20px;background:#a8a8a8"></div>
<div style="position:absolute;left:149px;top:49px;width:1px;height:20px;background:#a8a8a8"></div>
<div style="position:absolute;left:62px;top:50px;width:18px;height:18px;background:linear-gradient(#f2f2f2 0,#ebebeb 38%,#dadada 40%,#d2d2d2 100%)"></div>
<div style="position:absolute;left:151px;top:50px;width:18px;height:18px;background:linear-gradient(#f2f2f2 0,#ebebeb 38%,#dadada 40%,#d2d2d2 100%)"></div>
<svg style="position:absolute;left:67px;top:57px" width="8" height="5"><polygon points="0.5,0.5 6.5,0.5 3.5,3.5" fill="#4a5ac8"/></svg>
<svg style="position:absolute;left:156px;top:57px" width="8" height="5"><polygon points="0.5,3.5 6.5,3.5 3.5,0.5" fill="#4a5ac8"/></svg>
<span class="p dj" style="left:121.5px;top:53px;font-size:12.5px;color:#000">2.00</span>
<span class="p dj" style="left:18px;top:54px;font-size:12.5px;color:#e4e4ff">SELL</span>
<span class="p dj" style="left:185px;top:54px;font-size:12.5px;color:#e4e4ff;letter-spacing:1.4px">BUY</span>
<span class="p dj" style="left:28.5px;top:90px;font-size:12.2px;font-weight:bold;color:#fff">115</span>
<span class="p dj" style="left:138.5px;top:90px;font-size:12.2px;font-weight:bold;color:#fff">115</span>
<span class="p big" style="left:52.5px;top:71px">17</span>
<span class="p big" style="left:163px;top:71px">24</span>
<span class="p dj" style="left:92.5px;top:74px;font-size:12px;font-weight:bold;color:#fff">1</span>
<span class="p dj" style="left:203.5px;top:74px;font-size:12px;font-weight:bold;color:#fff">1</span>
</div>
<div id="tabs">
<div style="position:absolute;left:0;top:0;width:1206px;height:1px;background:#e6e6e6"></div>
<div style="position:absolute;left:0;top:1px;width:1206px;height:1px;background:#fff"></div>
<div style="position:absolute;left:0;top:2px;width:1206px;height:1px;background:#000"></div>
<div style="position:absolute;left:0;top:3px;width:1206px;height:1px;background:#fff"></div>
<div style="position:absolute;left:0;top:21px;width:1206px;height:1px;background:#e4e4e4"></div>
<div style="position:absolute;left:0;top:22px;width:1206px;height:4px;background:#f3f3f3"></div>
<div style="position:absolute;left:0;top:26px;width:1206px;height:1px;background:#a0a0a0"></div>
<span class="t" style="left:15px;letter-spacing:0.08px">EURUSD-,Daily</span><i class="s" style="left:112px"></i>
<span class="t" style="left:122px;letter-spacing:0.18px">AUDUSD-,Daily</span><i class="s" style="left:220px"></i>
<span class="t" style="left:232px;letter-spacing:0.13px">USDCHF-,Daily</span><i class="s" style="left:328px"></i>
<span class="t" style="left:339px;letter-spacing:0.18px">USDCAD-,Daily</span><i class="s" style="left:436px"></i>
<span class="t" style="left:448px;letter-spacing:0.37px">USDCNH-,Daily</span><i class="s" style="left:548px"></i>
<span class="t" style="left:559px;letter-spacing:0.12px">XAUUSD-,H4</span><i class="s" style="left:644px"></i>
<span class="t" style="left:655px;letter-spacing:0.56px">UKOil-,H4</span><i class="s" style="left:724px"></i>
<span class="t" style="left:736px;letter-spacing:0.36px">USOil-,Daily</span><i class="s" style="left:816px"></i>
<span class="t" style="left:826px;letter-spacing:0.53px">HK50-,H1</span><i class="s" style="left:891px"></i>
<span class="t" style="left:902px;letter-spacing:0.0px">EURCHF-,H1</span>
<div style="position:absolute;left:984px;top:2px;width:80px;height:19px;background:#fff;border-left:1px solid #000;border-right:1px solid #000;border-bottom:1px solid #000"></div>
<span class="t" style="left:996px;color:#000;letter-spacing:0.42px">USOil-,H4</span>
<span class="t" style="left:1075px;letter-spacing:0.56px">UKOil-,H4</span><i class="s" style="left:1144px"></i>
<svg style="position:absolute;left:1180px;top:8px" width="26" height="8"><polygon points="4.5,0 4.5,7 0.5,3.5" fill="#000"/><polygon points="20,0 20,7 23.5,3.5" fill="#a0a0a0"/></svg>
</div>
</body></html>
